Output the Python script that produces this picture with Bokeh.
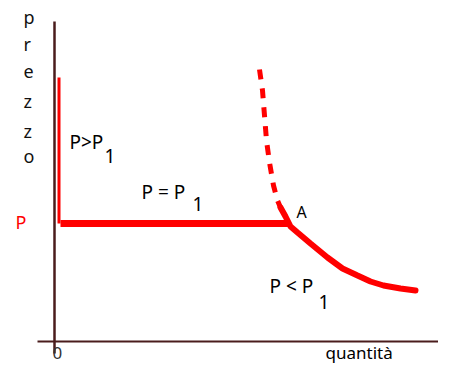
from bokeh.plotting import figure
from bokeh.models import Range1d
from bokeh.core.properties import value
from bokeh.embed import file_html
from bokeh.resources import INLINE

# ---- data (quantity, price in arbitrary units) ----
axis_x_q = [-1.7, 40.0]
axis_x_p = [0.0, 0.0]
axis_y_q = [0.0, 0.0]
axis_y_p = [32.0, -1.2]

high_q = [0.45, 0.45]          # P > P1 branch (vertical)
high_p = [26.4, 11.8]
flat_q = [0.6, 23.4]           # P = P1 branch (horizontal)
flat_p = [11.8, 11.8]
dash_q = [20.5, 20.8, 21.0, 21.2, 21.5, 21.9, 22.3, 22.6]
dash_p = [27.2, 25.1, 22.6, 20.1, 17.9, 15.6, 14.1, 13.4]
low_q = [22.6, 23.1, 23.6, 24.3, 25.6, 27.3, 28.8, 30.3, 31.6, 32.9, 34.6, 36.1]
low_p = [13.4, 12.5, 11.5, 10.9, 9.8, 8.4, 7.3, 6.6, 6.0, 5.6, 5.3, 5.1]

ylabel_letters = ["p", "r", "e", "z", "z", "o"]
ylabel_q = [-3.1] * 6
ylabel_p = [32.5, 29.8, 27.0, 24.1, 21.1, 18.6]

label_text = ["P>P", "P = P", "P < P", "A"]
label_q = [1.5, 8.7, 21.5, 24.2]
label_p = [20.0, 15.0, 5.6, 13.0]
sub_text = ["1", "1", "1"]
sub_q = [5.0, 13.8, 26.4]
sub_p = [18.6, 13.8, 4.0]

FONT = value("Noto Sans")
RED = "#ff0000"
AX = "#4a1c1c"

p = figure(width=438, height=365, x_range=Range1d(-5.4, 38.4), y_range=Range1d(-2.4, 34.1),
           output_backend="svg", toolbar_location=None, min_border=0)
p.axis.visible = False
p.grid.visible = False
p.outline_line_color = None
p.background_fill_color = "white"
p.border_fill_color = "white"

# axes
p.line(axis_x_q, axis_x_p, line_color=AX, line_width=2)
p.line(axis_y_q, axis_y_p, line_color=AX, line_width=2.5)

# demand curve
p.line(high_q, high_p, line_color=RED, line_width=3)
p.line(flat_q, flat_p, line_color=RED, line_width=7)
p.line(dash_q, dash_p, line_color=RED, line_width=5, line_dash="10 9")
p.line(low_q, low_p, line_color=RED, line_width=6, line_cap="round")

# vertical axis label
p.text(ylabel_q, ylabel_p, text=ylabel_letters, text_font=FONT, text_font_size="18px",
       text_color="#111111", text_baseline="alphabetic", text_align="left")

# region labels
p.text(label_q[:3], label_p[:3], text=label_text[:3], text_font=FONT, text_font_size="19px",
       text_color="black", text_baseline="alphabetic", text_align="left")
p.text(sub_q, sub_p, text=sub_text, text_font=FONT, text_font_size="19px",
       text_color="black", text_baseline="alphabetic", text_align="left")
p.text([label_q[3]], [label_p[3]], text=[label_text[3]], text_font=FONT, text_font_size="16px",
       text_color="black", text_baseline="alphabetic", text_align="left")

# price level and axis ticks
p.text([-3.9], [12.0], text=["P"], text_font=FONT, text_font_size="18px",
       text_color=RED, text_baseline="alphabetic", text_align="left")
p.text([-0.2], [-1.1], text=["0"], text_font=FONT, text_font_size="17px",
       text_color="#333333", text_baseline="alphabetic", text_align="left")
p.text([27.1], [-1.1], text=["quantità"], text_font=FONT, text_font_size="17px",
       text_color="black", text_baseline="alphabetic", text_align="left")

open("out.html", "w").write(file_html(p, INLINE))
